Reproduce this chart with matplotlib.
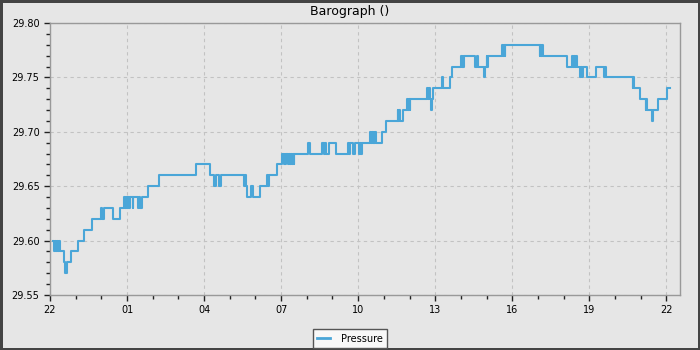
import pandas as pd
import matplotlib
matplotlib.use('Agg')
import matplotlib.pyplot as plt
import matplotlib.dates as mdates
from matplotlib.ticker import MultipleLocator, FormatStrFormatter

start = pd.Timestamp('2024-03-21 22:00')

# minutes after 22:00 at which the reading changed
change_min = [
    7, 10, 12, 14, 16, 18, 20, 23, 33, 36,
    39, 48, 65, 79, 98, 118, 121, 126, 147, 163,
    174, 176, 178, 180, 182, 184, 186, 193, 195, 206,
    208, 210, 215, 230, 255, 341, 374, 384, 388, 394,
    399, 453, 455, 457, 461, 470, 474, 491, 508, 510,
    512, 531, 543, 546, 548, 550, 552, 555, 558, 560,
    562, 565, 567, 569, 571, 602, 608, 636, 641, 643,
    645, 653, 668, 697, 699, 701, 707, 713, 721, 724,
    727, 729, 748, 750, 752, 754, 756, 758, 760, 762,
    775, 784, 812, 814, 816, 818, 824, 834, 836, 838,
    840, 841, 882, 884, 886, 888, 891, 893, 894, 916,
    919, 934, 940, 960, 962, 964, 966, 968, 992, 997,
    1000, 1014, 1017, 1020, 1022, 1024, 1056, 1058, 1060, 1062,
    1064, 1144, 1146, 1148, 1150, 1152, 1209, 1219, 1221, 1224,
    1227, 1229, 1231, 1239, 1241, 1243, 1246, 1254, 1275, 1294,
    1296, 1298, 1362, 1363, 1364, 1379, 1392, 1393, 1395, 1406,
    1410, 1420, 1441, 1448,
]

# new pressure reading (inHg) at each change
pressure = [
    29.60, 29.59, 29.60, 29.59, 29.60, 29.59, 29.60, 29.59, 29.58, 29.57,
    29.58, 29.59, 29.60, 29.61, 29.62, 29.63, 29.62, 29.63, 29.62, 29.63,
    29.64, 29.63, 29.64, 29.63, 29.64, 29.63, 29.64, 29.63, 29.64, 29.63,
    29.64, 29.63, 29.64, 29.65, 29.66, 29.67, 29.66, 29.65, 29.66, 29.65,
    29.66, 29.65, 29.66, 29.65, 29.64, 29.65, 29.64, 29.65, 29.66, 29.65,
    29.66, 29.67, 29.68, 29.67, 29.68, 29.67, 29.68, 29.67, 29.68, 29.67,
    29.68, 29.67, 29.68, 29.67, 29.68, 29.69, 29.68, 29.69, 29.68, 29.69,
    29.68, 29.69, 29.68, 29.69, 29.68, 29.69, 29.68, 29.69, 29.68, 29.69,
    29.68, 29.69, 29.70, 29.69, 29.70, 29.69, 29.70, 29.69, 29.70, 29.69,
    29.70, 29.71, 29.72, 29.71, 29.72, 29.71, 29.72, 29.73, 29.72, 29.73,
    29.72, 29.73, 29.74, 29.73, 29.74, 29.73, 29.72, 29.73, 29.74, 29.75,
    29.74, 29.75, 29.76, 29.77, 29.76, 29.77, 29.76, 29.77, 29.76, 29.77,
    29.76, 29.75, 29.76, 29.77, 29.76, 29.77, 29.78, 29.77, 29.78, 29.77,
    29.78, 29.77, 29.78, 29.77, 29.78, 29.77, 29.76, 29.77, 29.76, 29.77,
    29.76, 29.77, 29.76, 29.75, 29.76, 29.75, 29.76, 29.75, 29.76, 29.75,
    29.76, 29.75, 29.74, 29.75, 29.74, 29.73, 29.72, 29.73, 29.72, 29.71,
    29.72, 29.73, 29.74, 29.74,
]

times = start + pd.to_timedelta(change_min, unit='min')

bg = '#e6e6e6'
fig = plt.figure(figsize=(7, 3.5), dpi=100, facecolor=bg,
                 edgecolor='#444444', linewidth=2.5)
ax = fig.add_axes([50 / 700, 1 - 295 / 350, 630 / 700, 272 / 350])
ax.set_facecolor(bg)

ax.step(times, pressure, where='post', color='#4aa6d8', lw=1.5,
        label='Pressure')

ax.set_xlim(start, start + pd.Timedelta(minutes=1472))
ax.set_ylim(29.55, 29.80)

ax.xaxis.set_major_locator(mdates.HourLocator(byhour=range(1, 24, 3)))
ax.xaxis.set_minor_locator(mdates.HourLocator())
ax.xaxis.set_major_formatter(mdates.DateFormatter('%H'))
ax.yaxis.set_major_locator(MultipleLocator(0.05))
ax.yaxis.set_minor_locator(MultipleLocator(0.01))
ax.yaxis.set_major_formatter(FormatStrFormatter('%.2f'))

ax.tick_params(which='major', direction='out', length=4, width=1,
               labelsize=7, color='#222222')
ax.tick_params(which='minor', direction='out', length=3, width=1,
               color='#222222')
ax.grid(True, which='major', linestyle=(0, (3, 3)), color='#c2c2c2', lw=0.8)

for sp in ax.spines.values():
    sp.set_color('#999999')
    sp.set_linewidth(1)

fig.text(0.5, 1 - 11 / 350, 'Barograph ()', ha='center', va='center',
         fontsize=9)

leg = fig.legend(loc='center', bbox_to_anchor=(350 / 700, 1 - 338.5 / 350),
                 fontsize=7, fancybox=False, framealpha=1, handlelength=1.3,
                 borderpad=0.45, handletextpad=1.2, borderaxespad=0)
leg.get_frame().set_edgecolor('#555555')
leg.get_frame().set_facecolor('#f8f8f8')
for line in leg.get_lines():
    line.set_linewidth(2)

fig.savefig('out.png', dpi=100, facecolor=fig.get_facecolor(),
            edgecolor=fig.get_edgecolor())
